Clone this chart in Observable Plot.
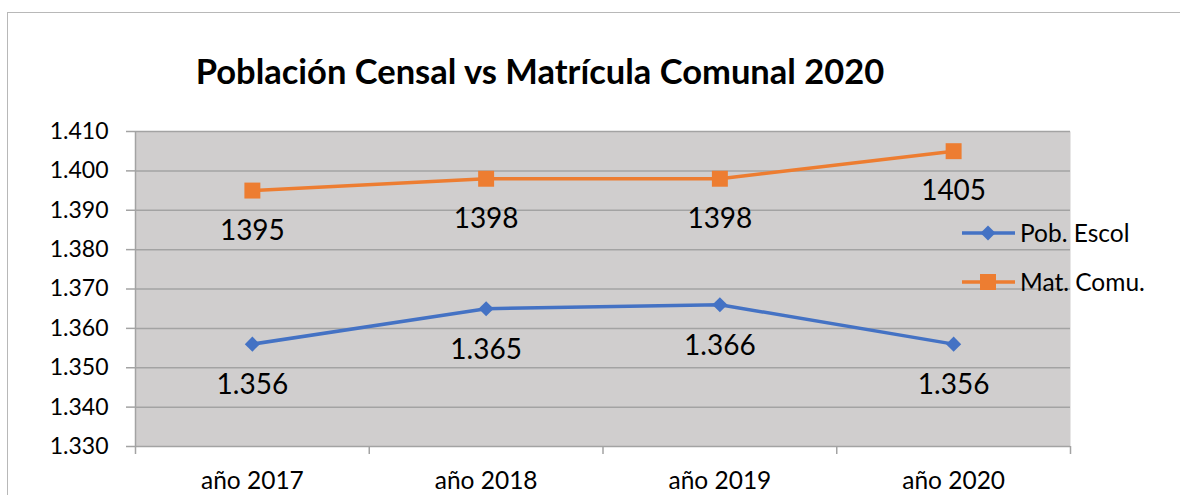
<!DOCTYPE html>
<html>
<head>
<meta charset="utf-8">
<script src="https://cdn.jsdelivr.net/npm/d3@7"></script>
<script src="https://cdn.jsdelivr.net/npm/@observablehq/plot@0.6"></script>
<style>
  html, body { margin: 0; padding: 0; background: #fff; }
  #wrap { position: relative; width: 1180px; height: 495px; overflow: hidden; font-family: Lato, "Liberation Sans", sans-serif; }
  #border { position: absolute; left: 7px; top: 12px; width: 1300px; height: 600px; border: 1px solid #b8b8b8; box-sizing: border-box; }
  #title { position: absolute; left: 0; width: 1080px; top: 50px; text-align: center; font-weight: bold; font-size: 34.5px; color: #000; }
  #chart { position: absolute; left: 0; top: 0; }
  #legend { position: absolute; left: 955px; top: 210px; }
</style>
</head>
<body>
<div id="wrap">
  <div id="border"></div>
  <div id="chart"></div>
  <div id="title">Población Censal vs Matrícula Comunal 2020</div>
  <div id="legend"></div>
</div>
<script>
const years = ["año 2017", "año 2018", "año 2019", "año 2020"];
const pobEscol = [1356, 1365, 1366, 1356];
const matComu = [1395, 1398, 1398, 1405];
const yTicks = [1330, 1340, 1350, 1360, 1370, 1380, 1390, 1400, 1410];
const seriesNames = ["Pob. Escol", "Mat. Comu."];
const seriesColors = ["#4472C4", "#ED7D31"];

const es = d3.formatLocale({decimal: ",", thousands: ".", grouping: [3], currency: ["", ""]});
const fmtDot = es.format(",");

const blue = years.map((c, i) => ({i: i + 1, cat: c, v: pobEscol[i]}));
const orange = years.map((c, i) => ({i: i + 1, cat: c, v: matComu[i]}));
const centers = years.map((c, i) => i + 1);
const bounds = d3.range(years.length + 1).map(k => k + 0.5);

const gridColor = "#a3a3a3";
const font = "Lato, 'Liberation Sans', sans-serif";

const plot = Plot.plot({
  width: 1180,
  height: 495,
  marginLeft: 135,
  marginRight: 110,
  marginTop: 131,
  marginBottom: 49,
  style: {fontFamily: font, fontSize: "22px", color: "#000", background: "transparent"},
  x: {type: "linear", domain: [0.5, years.length + 0.5]},
  y: {domain: [1330, 1410]},
  marks: [
    Plot.frame({fill: "#d0cece", stroke: null}),
    Plot.gridY(yTicks, {stroke: gridColor, strokeOpacity: 1, strokeWidth: 1.5}),
    Plot.ruleX([bounds[0]], {y1: 1330, y2: 1410, stroke: gridColor, strokeWidth: 1.5}),
    Plot.axisX(bounds, {tickSize: 8, tickFormat: () => "", stroke: gridColor, strokeWidth: 1.5, label: null}),
    Plot.axisX(centers, {tickSize: 0, tickPadding: 25, tickFormat: i => years[i - 1], fontSize: 24.5, label: null, fill: "#000"}),
    Plot.axisY(yTicks, {tickSize: 9, tickPadding: 18, tickFormat: fmtDot, stroke: gridColor, strokeWidth: 1.5, fontSize: 23, label: null, fill: "#000"}),
    Plot.line(orange, {x: "i", y: "v", stroke: seriesColors[1], strokeWidth: 3.5}),
    Plot.line(blue, {x: "i", y: "v", stroke: seriesColors[0], strokeWidth: 3.5}),
    Plot.dot(orange, {x: "i", y: "v", symbol: "square", r: 9, fill: seriesColors[1], stroke: null}),
    Plot.dot(blue, {x: "i", y: "v", symbol: "diamond2", r: 6.8, fill: seriesColors[0], stroke: null}),
    Plot.text(orange, {x: "i", y: "v", text: d => String(d.v), dy: 40, fontSize: 28, fill: "#000", lineAnchor: "middle"}),
    Plot.text(blue, {x: "i", y: "v", text: d => fmtDot(d.v), dy: 41, fontSize: 28, fill: "#000", lineAnchor: "middle"})
  ]
});
document.getElementById("chart").appendChild(plot);

// Legend
const lg = d3.select("#legend").append("svg").attr("width", 225).attr("height", 100)
  .style("font-family", font).style("font-size", "24.5px");
const sq = d3.symbol();
seriesNames.forEach((name, k) => {
  const y = 23 + k * 49;
  const g = lg.append("g").attr("transform", `translate(0,${y})`);
  g.append("line").attr("x1", 7).attr("x2", 60).attr("y1", 0).attr("y2", 0)
    .attr("stroke", seriesColors[k]).attr("stroke-width", 3.5);
  g.append("path")
    .attr("d", sq.type(k === 0 ? d3.symbolDiamond2 : d3.symbolSquare).size(k === 0 ? 145 : 256)())
    .attr("transform", "translate(33,0)").attr("fill", seriesColors[k]);
  g.append("text").attr("x", 65).attr("y", 0).attr("dy", "0.35em").attr("fill", "#000").text(name);
});
</script>
</body>
</html>
